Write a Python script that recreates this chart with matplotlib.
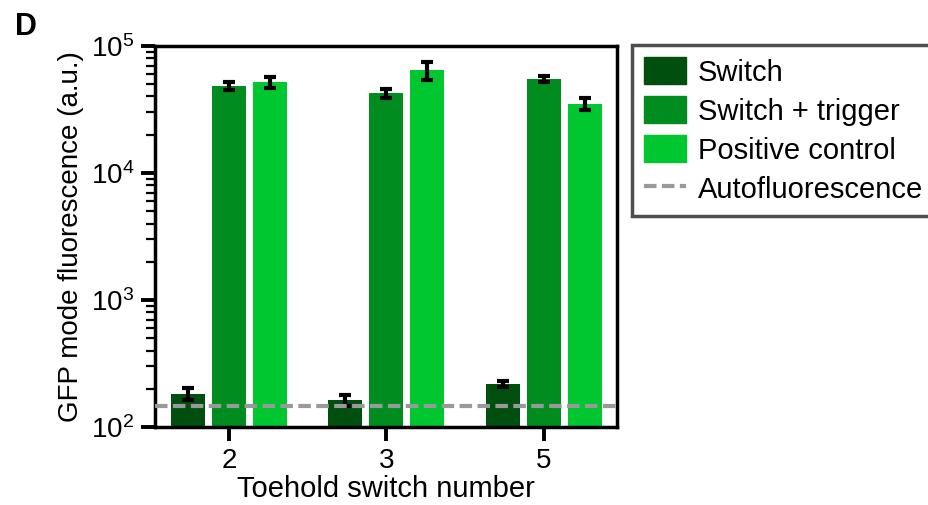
import numpy as np
import matplotlib
matplotlib.use('Agg')
import matplotlib.pyplot as plt
from matplotlib.patches import Patch
from matplotlib.lines import Line2D

plt.rcParams['font.family'] = ['Liberation Sans', 'DejaVu Sans']
plt.rcParams['mathtext.fontset'] = 'custom'
plt.rcParams['mathtext.rm'] = 'Liberation Sans'
plt.rcParams['mathtext.it'] = 'Liberation Sans'

# data
switches = ['2', '3', '5']
switch_only = [182, 162, 217]
switch_only_err = [20, 16, 12]
switch_trigger = [48700, 42400, 54700]
switch_trigger_err = [3700, 3700, 2800]
positive = [51800, 64300, 34900]
positive_err = [5500, 10000, 3800]
autofluor = 147

c_switch = '#004f0e'
c_trig = '#008c1e'
c_pos = '#00c630'

fig = plt.figure(figsize=(9.29, 5.05), dpi=100)
ax = fig.add_axes([0.1668, 0.1545, 0.4973, 0.7545])

x = np.arange(len(switches))
w = 0.217
off = 0.26
ek = dict(ecolor='black', elinewidth=3, capsize=4.5, capthick=3)
ax.bar(x - off, switch_only, w, yerr=switch_only_err, color=c_switch, error_kw=ek, zorder=2)
ax.bar(x, switch_trigger, w, yerr=switch_trigger_err, color=c_trig, error_kw=ek, zorder=2)
ax.bar(x + off, positive, w, yerr=positive_err, color=c_pos, error_kw=ek, zorder=2)
ax.axhline(autofluor, color='#999999', lw=3, ls=(0, (3, 1.3)), zorder=3)

ax.set_yscale('log')
ax.set_ylim(100, 1e5)
ax.set_xlim(-0.47, 2.465)
ax.set_xticks(x)
ax.set_xticklabels(switches)
ax.set_yticks([1e2, 1e3, 1e4, 1e5])
ax.set_yticklabels([r'$10^2$', r'$10^3$', r'$10^4$', r'$10^5$'])

for s in ax.spines.values():
    s.set_linewidth(2.5)
ax.tick_params(axis='both', which='major', direction='out', length=10, width=2.8, labelsize=20, pad=5)
ax.tick_params(axis='y', which='minor', direction='out', length=6.5, width=1.6)
ax.set_xlabel('Toehold switch number', fontsize=21, labelpad=1)
ax.set_ylabel('GFP mode fluorescence (a.u.)', fontsize=20, labelpad=5)

fig.text(0.016, 0.931, 'D', fontsize=22, fontweight='bold')

handles = [Patch(color=c_switch), Patch(color=c_trig), Patch(color=c_pos),
           Line2D([0], [0], color='#999999', lw=3, ls=(0, (3, 1.3)))]
labels = ['Switch', 'Switch + trigger', 'Positive control', 'Autofluorescence']
leg = fig.legend(handles, labels, loc='upper left', bbox_to_anchor=(0.680, 0.911),
                 fontsize=21, frameon=True, fancybox=False, edgecolor='#222222',
                 handlelength=1.45, handleheight=1.05, handletextpad=0.4,
                 labelspacing=0.33, borderpad=0.42, borderaxespad=0)
leg.get_frame().set_linewidth(2.5)

fig.savefig('out.png', dpi=100)
